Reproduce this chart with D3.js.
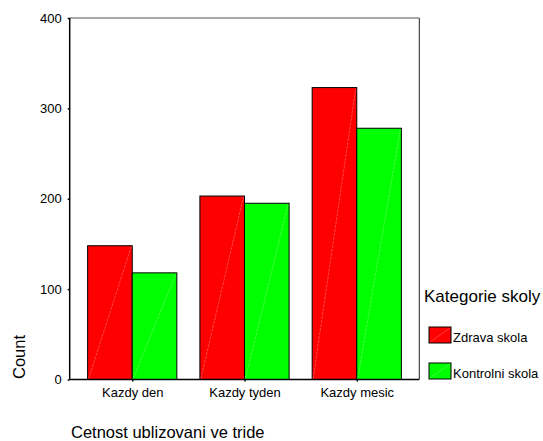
<!DOCTYPE html>
<html><head><meta charset="utf-8">
<script src="https://cdn.jsdelivr.net/npm/d3@7/dist/d3.min.js"></script>
<style>body{margin:0;background:#fff;}svg{display:block;font-family:Arial,"Liberation Sans",sans-serif;}</style>
</head><body><svg id="c" width="543" height="441"></svg>
<script>
const categories = ["Kazdy den", "Kazdy tyden", "Kazdy mesic"];
const seriesNames = ["Zdrava skola", "Kontrolni skola"];
const zdrava = [148, 203, 323];
const kontrolni = [118, 195, 278];
const yTicks = [0, 100, 200, 300, 400];
const colors = ["#ff0000", "#00ff00"];

const FONT = "Arial,'Liberation Sans',sans-serif";
const svg = d3.select("#c");
const L = 69.7, R = 419.3, T = 18, B = 379.5;
const x = d3.scalePoint().domain(categories).range([L, R]).padding(0.557);
const y = d3.scaleLinear().domain([0, 400]).range([B, T]);
const bw = 44.6;
const series = [zdrava, kontrolni];

// frame top & right
svg.append("line").attr("x1", L).attr("x2", R).attr("y1", T).attr("y2", T).attr("stroke", "#555").attr("stroke-width", 1);
svg.append("line").attr("x1", R).attr("x2", R).attr("y1", T).attr("y2", B).attr("stroke", "#222").attr("stroke-width", 1);

// bars
series.forEach((vals, si) => {
  const g = svg.append("g");
  vals.forEach((v, i) => {
    const x0 = x(categories[i]) + (si === 0 ? -bw : 0);
    g.append("rect").attr("x", x0).attr("y", y(v)).attr("width", bw).attr("height", B - y(v))
      .attr("fill", colors[si]).attr("stroke", "#000").attr("stroke-width", 1);
    g.append("line").attr("x1", x0 + 1).attr("y1", B - 1).attr("x2", x0 + bw - 1).attr("y2", y(v) + 1)
      .attr("stroke", "#fff").attr("stroke-opacity", 0.45).attr("stroke-width", 0.6).attr("stroke-dasharray", "3,1");
  });
});

// y axis
const ya = svg.append("g").attr("transform", `translate(${L},0)`)
  .call(d3.axisLeft(y).tickValues(yTicks).tickSize(2).tickPadding(6).tickFormat(d3.format("d")));
ya.select(".domain").attr("stroke", "#000").attr("stroke-width", 1.5).attr("d", `M0,${T}V${B}`);
ya.selectAll(".tick line").attr("stroke", "#000").attr("stroke-width", 1.5);
ya.selectAll("text").attr("font-size", 13).attr("fill", "#000").attr("font-family", FONT);

// x axis
const xa = svg.append("g").attr("transform", `translate(0,${B})`)
  .call(d3.axisBottom(x).tickSize(2).tickPadding(6));
xa.select(".domain").attr("stroke", "#000").attr("stroke-width", 1.5).attr("d", `M${L},0H${R}`);
xa.selectAll(".tick line").attr("stroke", "#000").attr("stroke-width", 1.5);
xa.selectAll("text").attr("font-size", 13).attr("fill", "#000").attr("font-family", FONT);

// axis titles
svg.append("text").attr("transform", "translate(25,357) rotate(-90)").attr("text-anchor", "middle")
  .attr("font-size", 16.5).text("Count");
svg.append("text").attr("x", 71).attr("y", 438).attr("font-size", 16.5).text("Cetnost ublizovani ve tride");

// legend
svg.append("text").attr("x", 424).attr("y", 302).attr("font-size", 17).text("Kategorie skoly");
seriesNames.forEach((n, i) => {
  const yy = 327 + i * 36;
  svg.append("rect").attr("x", 429).attr("y", yy).attr("width", 22).attr("height", 16)
    .attr("fill", colors[i]).attr("stroke", "#000").attr("stroke-width", 1);
  svg.append("line").attr("x1", 430).attr("y1", yy + 15).attr("x2", 450).attr("y2", yy + 1)
    .attr("stroke", "#fff").attr("stroke-opacity", 0.4).attr("stroke-width", 0.6);
  svg.append("text").attr("x", 453).attr("y", yy + 14.5).attr("font-size", 13).text(n);
});
</script></body></html>
